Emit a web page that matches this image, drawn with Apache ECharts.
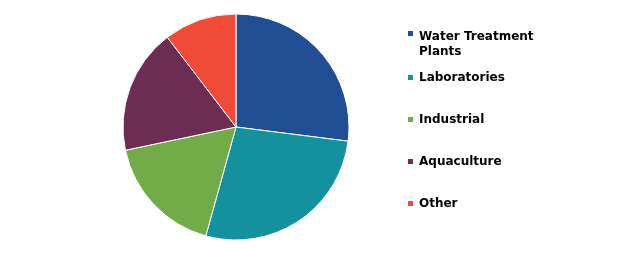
<!DOCTYPE html>
<html><head><meta charset="utf-8">
<script src="https://cdn.jsdelivr.net/npm/echarts@6/dist/echarts.min.js"></script>
<style>html,body{margin:0;padding:0;background:#fff}#c{width:620px;height:256px}</style>
</head><body><div id="c"></div>
<script>
const categories = ["Water Treatment Plants", "Laboratories", "Industrial", "Aquaculture", "Other"];
const legendLabels = ["Water Treatment\nPlants", "Laboratories", "Industrial", "Aquaculture", "Other"];
const values = [27.0, 27.3, 17.4, 17.9, 10.4];
const colors = ["#1f4e94", "#13929e", "#72ac48", "#6d2c52", "#f04b37"];

const chart = echarts.init(document.getElementById('c'), null, {renderer: 'canvas'});
const legendTops = [29, 70, 112, 154, 196];
const legends = categories.map((name, i) => ({
  data: [name],
  orient: 'vertical',
  left: 406,
  top: legendTops[i],
  padding: 0,
  itemWidth: 7,
  itemHeight: i === 0 ? 29 : 7,
  icon: i === 0 ? 'path://M0,0h7v7h-7z M0,28.99h0.01v0.01h-0.01z' : 'rect',
  itemGap: 0,
  selectedMode: false,
  formatter: () => legendLabels[i],
  textStyle: {fontFamily: 'DejaVu Sans', fontWeight: 'bold', fontSize: 12, color: '#000', lineHeight: 15, padding: [0,0,0,0]}
}));
chart.setOption({
  animation: false,
  color: colors,
  legend: legends,
  series: [{
    type: 'pie',
    center: [236, 127],
    radius: 113,
    startAngle: 90,
    clockwise: true,
    label: {show: false},
    labelLine: {show: false},
    emphasis: {disabled: true},
    itemStyle: {borderColor: '#fff', borderWidth: 1},
    data: categories.map((n, i) => ({name: n, value: values[i]}))
  }]
});
</script></body></html>
